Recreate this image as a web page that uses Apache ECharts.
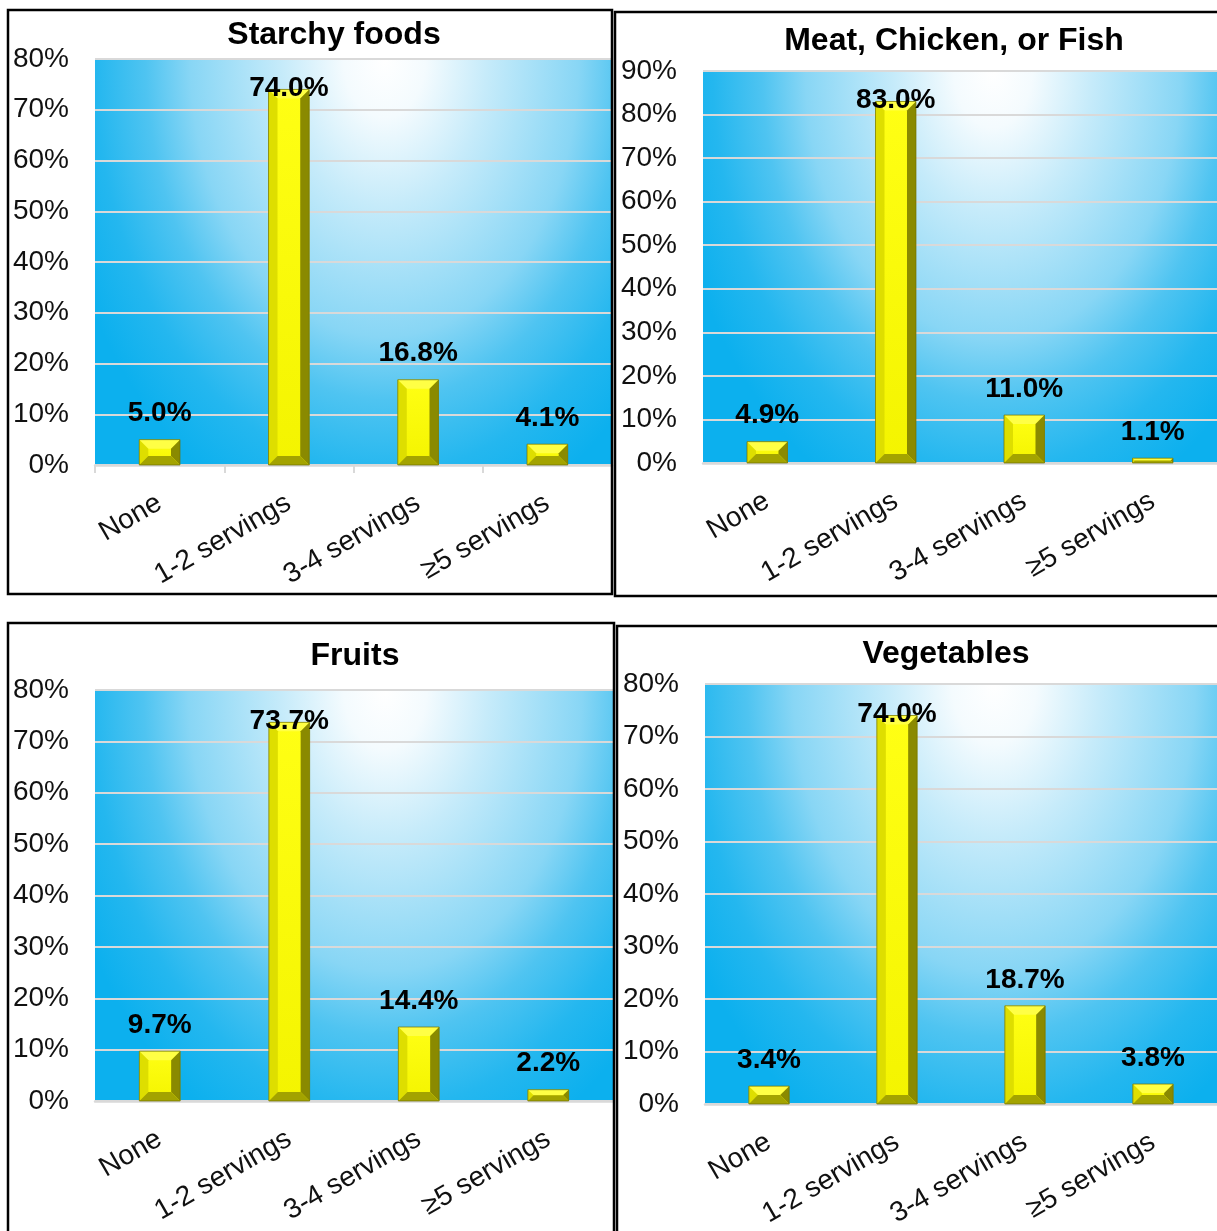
<!DOCTYPE html>
<html>
<head>
<meta charset="utf-8">
<title>Daily servings by food group</title>
<script src="https://cdn.jsdelivr.net/npm/echarts@6/dist/echarts.min.js"></script>
<style>
  html, body { margin: 0; padding: 0; background: #ffffff; }
  #chart { width: 1217px; height: 1231px; }
</style>
</head>
<body>
<div id="chart"></div>
<script>
// Servings categories shared by every panel
var categories = ['None', '1-2 servings', '3-4 servings', '\u22655 servings'];

// Share of respondents (%) per category, one array per food group
var starchyFoods = [5.0, 74.0, 16.8, 4.1];
var meatChickenFish = [4.9, 83.0, 11.0, 1.1];
var fruits = [9.7, 73.7, 14.4, 2.2];
var vegetables = [3.4, 74.0, 18.7, 3.8];

var panelTitles = ['Starchy foods', 'Meat, Chicken, or Fish', 'Fruits', 'Vegetables'];
var axisMaxima = [80, 90, 80, 80];

// Page layout of the four panels (pixels)
var panels = [
  { values: starchyFoods, grid: { left: 95, top: 59, width: 517, height: 406 }, titleX: 329, titleY: 14,
    frame: { x: 8, y: 10, width: 604, height: 584 }, ticks: true },
  { values: meatChickenFish, grid: { left: 703, top: 71, width: 518, height: 392 }, titleX: 949, titleY: 20,
    frame: { x: 615, y: 12, width: 700, height: 584 }, ticks: false },
  { values: fruits, grid: { left: 95, top: 690, width: 518, height: 411 }, titleX: 350, titleY: 635,
    frame: { x: 8, y: 623, width: 606, height: 700 }, ticks: false },
  { values: vegetables, grid: { left: 705, top: 684, width: 516, height: 420 }, titleX: 941, titleY: 633,
    frame: { x: 617, y: 626, width: 700, height: 700 }, ticks: false }
];

var FONT = "'Liberation Sans', Arial, Helvetica, sans-serif";

// Bevelled yellow column with its value label above it
function renderBevelBar(params, api) {
  var idx = api.value(0);
  var v = api.value(1);
  var top = api.coord([idx, v]);
  var base = api.coord([idx, 0]);
  var bw = api.size([1, 0])[0] * 0.315;
  var x0 = top[0] - bw / 2, x1 = top[0] + bw / 2;
  var y0 = top[1], y1 = base[1];
  var h = y1 - y0;
  var b = Math.min(9, h / 2, bw / 2);

  var plotTop = params.coordSys.y;
  var labelY = y0 - 26;
  if (labelY - 14 < plotTop) labelY = y0 - 1;

  return {
    type: 'group',
    children: [
      { type: 'rect', shape: { x: x0, y: y0, width: bw, height: h },
        style: { fill: new echarts.graphic.LinearGradient(0, 0, 0, 1, [
          { offset: 0, color: '#ffff14' }, { offset: 1, color: '#f4f400' }]) } },
      { type: 'polygon', shape: { points: [[x0, y0], [x1, y0], [x1 - b, y0 + b], [x0 + b, y0 + b]] },
        style: { fill: '#ffff45' } },
      { type: 'polygon', shape: { points: [[x0, y0], [x0 + b, y0 + b], [x0 + b, y1 - b], [x0, y1]] },
        style: { fill: '#dede00' } },
      { type: 'polygon', shape: { points: [[x1, y0], [x1, y1], [x1 - b, y1 - b], [x1 - b, y0 + b]] },
        style: { fill: '#8a8a00' } },
      { type: 'polygon', shape: { points: [[x0, y1], [x0 + b, y1 - b], [x1 - b, y1 - b], [x1, y1]] },
        style: { fill: '#a3a300' } },
      { type: 'rect', shape: { x: x0, y: y0, width: bw, height: h },
        style: { fill: 'none', stroke: '#6f6f00', lineWidth: 0.7 } },
      { type: 'text', z2: 10,
        style: { text: v.toFixed(1) + '%', x: top[0], y: labelY, align: 'center', verticalAlign: 'middle',
          font: 'bold 28px ' + FONT, fill: '#000000' } }
    ]
  };
}

// Plot background: white glow at the top fading to sky blue
function plotBackground(g) {
  var sx = 0.7;
  return {
    type: 'rect', z: -10, silent: true,
    x: g.left, y: g.top, scaleX: sx,
    shape: { x: 0, y: 0, width: g.width / sx, height: g.height },
    style: { fill: new echarts.graphic.RadialGradient(0.56, 0, 1.2, [
      { offset: 0, color: '#ffffff' },
      { offset: 0.12, color: '#f4fbfe' },
      { offset: 0.3, color: '#c6ebfa' },
      { offset: 0.57, color: '#88d6f5' },
      { offset: 0.7, color: '#4fc4f1' },
      { offset: 0.85, color: '#24b7ef' },
      { offset: 1, color: '#0cb0ee' }
    ]) }
  };
}

var grids = [], xAxes = [], yAxes = [], series = [], titles = [], graphics = [];

panels.forEach(function (p, i) {
  grids.push({ left: p.grid.left, top: p.grid.top, width: p.grid.width, height: p.grid.height, containLabel: false });
  titles.push({
    text: panelTitles[i], left: p.titleX, top: p.titleY, textAlign: 'center',
    textStyle: { fontFamily: FONT, fontWeight: 'bold', fontSize: 32, color: '#000000' }
  });
  xAxes.push({
    type: 'category', gridIndex: i, data: categories,
    axisLine: { show: true, lineStyle: { color: '#d9d9d9', width: 2.5 } },
    axisTick: { show: p.ticks, length: 8, alignWithLabel: false, lineStyle: { color: '#d9d9d9', width: 2 } },
    axisLabel: { interval: 0, rotate: 30, margin: 36, fontFamily: FONT, fontSize: 28, color: '#111111' },
    splitLine: { show: false }
  });
  yAxes.push({
    type: 'value', gridIndex: i, min: 0, max: axisMaxima[i], interval: 10,
    axisLine: { show: false }, axisTick: { show: false },
    axisLabel: { formatter: '{value}%', margin: 26, fontFamily: FONT, fontSize: 28, color: '#111111' },
    splitLine: { show: true, lineStyle: { color: '#d9d9d9', width: 2 } }
  });
  series.push({
    type: 'custom', xAxisIndex: i, yAxisIndex: i,
    data: p.values.map(function (v, k) { return [k, v]; }),
    encode: { x: 0, y: 1 },
    renderItem: renderBevelBar
  });
  graphics.push(plotBackground(p.grid));
  graphics.push({
    type: 'rect', z: 100, silent: true,
    shape: { x: p.frame.x, y: p.frame.y, width: p.frame.width, height: p.frame.height },
    style: { fill: 'none', stroke: '#000000', lineWidth: 2.5 }
  });
});

var chart = echarts.init(document.getElementById('chart'), null, { renderer: 'canvas' });
chart.setOption({
  animation: false,
  backgroundColor: '#ffffff',
  title: titles,
  grid: grids,
  xAxis: xAxes,
  yAxis: yAxes,
  series: series,
  graphic: { elements: graphics }
});
</script>
</body>
</html>
